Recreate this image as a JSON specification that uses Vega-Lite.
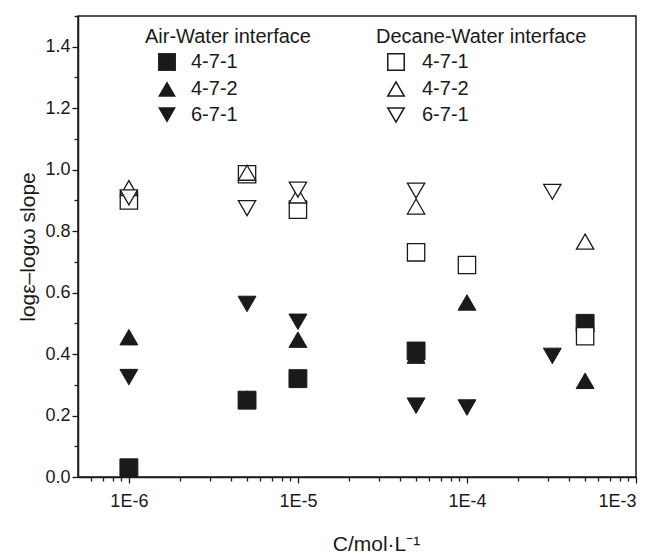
{
  "$schema": "https://vega.github.io/schema/vega-lite/v6.json",
  "width": 558,
  "height": 461,
  "autosize": "none",
  "padding": {"left": 78, "top": 16, "right": 20, "bottom": 80},
  "background": "white",
  "config": {
    "font": "Liberation Sans",
    "view": {"stroke": "#1a1a1a", "strokeWidth": 1.5},
    "axis": {"grid": false, "domainColor": "#1a1a1a", "domainWidth": 1.5, "tickColor": "#1a1a1a", "tickWidth": 1.3, "labelColor": "#1a1a1a", "titleColor": "#1a1a1a", "labelFont": "Liberation Sans", "titleFont": "Liberation Sans", "titleFontWeight": "normal"},
    "legend": {"titleFont": "Liberation Sans", "labelFont": "Liberation Sans", "titleFontWeight": "normal", "titleColor": "#1a1a1a", "labelColor": "#1a1a1a", "titleLimit": 400, "labelLimit": 200}
  },
  "data": {
    "values": [
      {"c": 1e-6, "slope": 0.03, "interface": "Air-Water", "sample": "4-7-1"},
      {"c": 5e-6, "slope": 0.25, "interface": "Air-Water", "sample": "4-7-1"},
      {"c": 1e-5, "slope": 0.32, "interface": "Air-Water", "sample": "4-7-1"},
      {"c": 5e-5, "slope": 0.41, "interface": "Air-Water", "sample": "4-7-1"},
      {"c": 5e-4, "slope": 0.50, "interface": "Air-Water", "sample": "4-7-1"},
      {"c": 1e-6, "slope": 0.455, "interface": "Air-Water", "sample": "4-7-2"},
      {"c": 5e-6, "slope": 0.255, "interface": "Air-Water", "sample": "4-7-2"},
      {"c": 1e-5, "slope": 0.447, "interface": "Air-Water", "sample": "4-7-2"},
      {"c": 5e-5, "slope": 0.395, "interface": "Air-Water", "sample": "4-7-2"},
      {"c": 1e-4, "slope": 0.568, "interface": "Air-Water", "sample": "4-7-2"},
      {"c": 5e-4, "slope": 0.313, "interface": "Air-Water", "sample": "4-7-2"},
      {"c": 1e-6, "slope": 0.325, "interface": "Air-Water", "sample": "6-7-1"},
      {"c": 5e-6, "slope": 0.563, "interface": "Air-Water", "sample": "6-7-1"},
      {"c": 1e-5, "slope": 0.505, "interface": "Air-Water", "sample": "6-7-1"},
      {"c": 5e-5, "slope": 0.232, "interface": "Air-Water", "sample": "6-7-1"},
      {"c": 1e-4, "slope": 0.226, "interface": "Air-Water", "sample": "6-7-1"},
      {"c": 3.2e-4, "slope": 0.394, "interface": "Air-Water", "sample": "6-7-1"},
      {"c": 1e-6, "slope": 0.90, "interface": "Decane-Water", "sample": "4-7-1"},
      {"c": 5e-6, "slope": 0.985, "interface": "Decane-Water", "sample": "4-7-1"},
      {"c": 1e-5, "slope": 0.87, "interface": "Decane-Water", "sample": "4-7-1"},
      {"c": 5e-5, "slope": 0.731, "interface": "Decane-Water", "sample": "4-7-1"},
      {"c": 1e-4, "slope": 0.69, "interface": "Decane-Water", "sample": "4-7-1"},
      {"c": 5e-4, "slope": 0.458, "interface": "Decane-Water", "sample": "4-7-1"},
      {"c": 1e-6, "slope": 0.94, "interface": "Decane-Water", "sample": "4-7-2"},
      {"c": 5e-6, "slope": 0.99, "interface": "Decane-Water", "sample": "4-7-2"},
      {"c": 1e-5, "slope": 0.916, "interface": "Decane-Water", "sample": "4-7-2"},
      {"c": 5e-5, "slope": 0.88, "interface": "Decane-Water", "sample": "4-7-2"},
      {"c": 5e-4, "slope": 0.766, "interface": "Decane-Water", "sample": "4-7-2"},
      {"c": 1e-6, "slope": 0.91, "interface": "Decane-Water", "sample": "6-7-1"},
      {"c": 5e-6, "slope": 0.875, "interface": "Decane-Water", "sample": "6-7-1"},
      {"c": 1e-5, "slope": 0.935, "interface": "Decane-Water", "sample": "6-7-1"},
      {"c": 5e-5, "slope": 0.932, "interface": "Decane-Water", "sample": "6-7-1"},
      {"c": 3.2e-4, "slope": 0.928, "interface": "Decane-Water", "sample": "6-7-1"}
    ]
  },
  "encoding": {
    "x": {
      "field": "c", "type": "quantitative",
      "scale": {"type": "log", "domain": [5e-7, 1e-3], "nice": false},
      "axis": {
        "title": "C/mol·L⁻¹",
        "titleFontSize": 21,
        "titleFontWeight": "normal",
        "titlePadding": 23,
        "titleX": 298,
        "labelFontSize": 18,
        "labelPadding": 9,
        "values": [6e-7, 7e-7, 8e-7, 9e-7, 1e-6, 2e-6, 3e-6, 4e-6, 5e-6, 6e-6, 7e-6, 8e-6, 9e-6, 1e-5, 2e-5, 3e-5, 4e-5, 5e-5, 6e-5, 7e-5, 8e-5, 9e-5, 1e-4, 2e-4, 3e-4, 4e-4, 5e-4, 6e-4, 7e-4, 8e-4, 9e-4, 1e-3],
        "labelExpr": "abs(log(datum.value)/LN10 - round(log(datum.value)/LN10)) < 0.001 ? '1E' + round(log(datum.value)/LN10) : ''",
        "tickSize": {"condition": {"test": "abs(log(datum.value)/LN10 - round(log(datum.value)/LN10)) < 0.001", "value": 6}, "value": 4},
        "labelOverlap": false
      }
    },
    "y": {
      "field": "slope", "type": "quantitative",
      "scale": {"domain": [0, 1.5], "nice": false, "zero": false},
      "axis": {
        "title": "logε–logω slope",
        "titleFontSize": 21,
        "titlePadding": 6,
        "labelFontSize": 18,
        "labelPadding": 2,
        "values": [0, 0.1, 0.2, 0.3, 0.4, 0.5, 0.6, 0.7, 0.8, 0.9, 1.0, 1.1, 1.2, 1.3, 1.4, 1.5],
        "labelExpr": "round(datum.value*10) % 2 == 0 && datum.value < 1.45 ? format(datum.value, '.1f') : ''",
        "tickSize": {"condition": {"test": "round(datum.value*10) % 2 == 0", "value": 6}, "value": 4},
        "labelOverlap": false
      }
    }
  },
  "layer": [
    {
      "transform": [{"filter": "datum.interface == 'Air-Water'"}],
      "mark": {"type": "point", "filled": true, "fill": "#1a1a1a", "stroke": "#1a1a1a", "strokeWidth": 1, "opacity": 1, "size": 320},
      "encoding": {
        "shape": {
          "field": "sample", "type": "nominal",
          "scale": {"domain": ["4-7-1", "4-7-2", "6-7-1"], "range": ["square", "triangle-up", "triangle-down"]},
          "legend": {
            "title": "Air-Water interface", "orient": "none", "legendX": 67, "legendY": 11,
            "titleFontSize": 20, "labelFontSize": 20, "symbolSize": 320, "symbolOffset": 12,
            "labelOffset": 14, "rowPadding": 4, "titlePadding": 5, "padding": 0,
            "symbolFillColor": "#1a1a1a", "symbolStrokeColor": "#1a1a1a"
          }
        }
      }
    },
    {
      "transform": [{"filter": "datum.interface == 'Decane-Water'"}],
      "mark": {"type": "point", "filled": true, "fill": "white", "stroke": "#1a1a1a", "strokeWidth": 1.3, "opacity": 1, "size": 300},
      "encoding": {
        "shape": {
          "field": "sample", "type": "nominal",
          "scale": {"domain": ["4-7-1", "4-7-2", "6-7-1"], "range": ["square", "triangle-up", "triangle-down"]},
          "legend": {
            "title": "Decane-Water interface", "orient": "none", "legendX": 298, "legendY": 11,
            "titleFontSize": 20, "labelFontSize": 20, "symbolSize": 270, "symbolOffset": 10,
            "labelOffset": 16, "rowPadding": 4, "titlePadding": 5, "padding": 0,
            "encode": {"symbols": {"update": {"fill": {"value": "white"}, "stroke": {"value": "#1a1a1a"}, "strokeWidth": {"value": 1.3}, "opacity": {"value": 1}}}}
          }
        }
      }
    }
  ],
  "resolve": {"scale": {"shape": "independent"}}
}
